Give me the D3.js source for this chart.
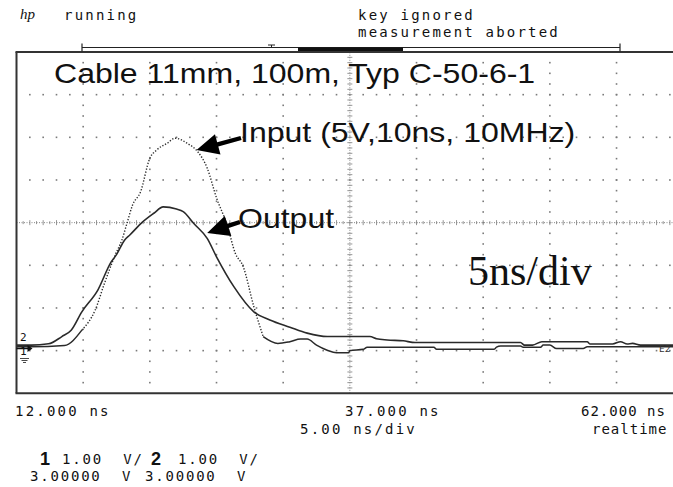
<!DOCTYPE html>
<html>
<head>
<meta charset="utf-8">
<script src="https://cdn.jsdelivr.net/npm/d3@7"></script>
<style>
  html, body { margin: 0; padding: 0; background: #fff; }
  svg { display: block; }
  .mono { font-family: "DejaVu Sans Mono", monospace; font-size: 14px; letter-spacing: 2.2px; fill: #111; white-space: pre; }
</style>
</head>
<body>
<svg id="chart" width="673" height="487"></svg>
<script>
// Screen setup: 5 ns/div horizontally, 1 V/div vertically, 3 V at centre
const timeDomain = [12, 62];
const voltDomain = [-1, 7];
const timeGrid = [17, 22, 27, 32, 37, 42, 47, 52, 57];
const voltGrid = [0, 1, 2, 3, 4, 5, 6];

// Channel 2: output of the cable (solid trace)
const outputT = [12.0, 13.1, 14.4, 15.4, 16.1, 16.9, 18.1, 19.1, 19.5, 20.1, 20.5, 21.4, 22.3, 23.0, 24.0, 24.5, 25.3, 26.3, 27.0, 28.3, 29.8, 31.0, 32.5, 33.8, 35.3, 36.9, 38.5, 39.0, 39.8, 41.0, 41.9, 48.3, 49.8, 50.1, 50.7, 51.4, 54.8, 55.0, 56.7, 57.3, 57.8, 58.2, 58.8, 62.0];
const outputV = [0.13, 0.13, 0.16, 0.33, 0.48, 0.91, 1.42, 2.08, 2.25, 2.59, 2.71, 3.00, 3.22, 3.37, 3.32, 3.26, 2.98, 2.63, 2.20, 1.50, 0.91, 0.72, 0.55, 0.41, 0.33, 0.33, 0.33, 0.28, 0.25, 0.23, 0.19, 0.19, 0.19, 0.13, 0.13, 0.21, 0.21, 0.155, 0.155, 0.21, 0.155, 0.17, 0.13, 0.13];

// Channel 1: input pulse (dotted trace)
const inputT = [12.0, 13.1, 15.6, 16.9, 17.9, 18.6, 19.4, 19.9, 20.3, 20.7, 21.3, 22.0, 22.5, 23.3, 23.9, 24.8, 25.6, 26.3, 27.0, 27.8, 28.4, 29.0, 29.8, 30.5, 31.6, 32.5, 33.3, 33.8, 34.5, 35.3, 36.0, 36.9, 37.0, 38.0, 38.3, 43.3, 43.5, 47.8, 48.0, 48.3, 49.8, 50.0, 51.3, 51.5, 52.0, 52.5, 54.5, 54.8, 62.0];
const inputV = [0.09, 0.09, 0.12, 0.48, 0.95, 1.58, 2.24, 2.59, 3.00, 3.41, 3.72, 4.51, 4.70, 4.86, 4.98, 4.86, 4.66, 4.28, 3.58, 2.94, 2.29, 1.97, 1.03, 0.33, 0.17, 0.21, 0.27, 0.27, 0.13, 0.01, -0.05, -0.05, 0.0, 0.03, 0.08, 0.08, 0.03, 0.03, 0.08, 0.11, 0.11, 0.08, 0.08, 0.13, 0.13, 0.05, 0.05, 0.09, 0.09];

// Text on the screen
const titleText = "Cable 11mm, 100m, Typ C-50-6-1";
const inputLabel = "Input (5V,10ns, 10MHz)";
const outputLabel = "Output";
const scaleNote = "5ns/div";
const statusLeft = "running";
const statusRight = ["key ignored", "measurement aborted"];
const timeLabels = ["12.000 ns", "37.000 ns", "62.000 ns"];
const timeBaseLabels = ["5.00 ns/div", "realtime"];
const channelNames = ["1", "2"];
const channelScale = ["1.00  V/", "1.00  V/"];
const channelOffset = ["3.00000  V", "3.00000  V"];

const svg = d3.select("#chart");
const x = d3.scaleLinear().domain(timeDomain).range([16.5, 683.2]);
const y = d3.scaleLinear().domain(voltDomain).range([393.3, 52]);

// Dotted graticule
const grid = svg.append("g").attr("fill", "#7a7a7a");
const dotsH = [];
voltGrid.filter(v => v !== 3).forEach(v => {
  for (let t = timeDomain[0] + 1; t < timeDomain[1]; t += 1) dotsH.push([t, v]);
});
const dotsV = [];
timeGrid.filter(t => t !== 37).forEach(t => {
  for (let v = voltDomain[0] + 0.25; v < voltDomain[1]; v += 0.25) dotsV.push([t, v]);
});
grid.selectAll(".dh").data(dotsH.concat(dotsV)).join("rect")
  .attr("x", d => x(d[0]) - 0.8).attr("y", d => y(d[1]) - 0.8)
  .attr("width", 1.6).attr("height", 1.6);

// Centre axes with minor ticks
const axisG = svg.append("g").attr("stroke", "#8a8a8a").attr("fill", "none");
axisG.append("line").attr("x1", x(12)).attr("x2", x(62)).attr("y1", y(3)).attr("y2", y(3))
  .attr("stroke-dasharray", "1,1.5").attr("stroke-width", 1);
axisG.append("line").attr("x1", x(37)).attr("x2", x(37)).attr("y1", y(-1)).attr("y2", y(7))
  .attr("stroke-dasharray", "1,1.5").attr("stroke-width", 1);
const hTicks = d3.range(12.5, 62, 0.5);
axisG.selectAll(".ht").data(hTicks).join("line")
  .attr("x1", d => x(d)).attr("x2", d => x(d))
  .attr("y1", d => y(3) - (Number.isInteger(d) ? 2.5 : 1.5))
  .attr("y2", d => y(3) + (Number.isInteger(d) ? 2.5 : 1.5))
  .attr("stroke-width", 0.9);
const vTicks = d3.range(-0.875, 7, 0.125);
axisG.selectAll(".vt").data(vTicks).join("line")
  .attr("x1", d => x(37) - 2.5).attr("x2", d => x(37) + 2.5)
  .attr("y1", d => y(d)).attr("y2", d => y(d))
  .attr("stroke-width", 0.9);

// Traces
const line = d3.line().x(d => x(d[0])).y(d => y(d[1])).curve(d3.curveMonotoneX);
const outputPts = outputT.map((t, i) => [t, outputV[i]]);
const inputPts = inputT.map((t, i) => [t, inputV[i]]);

svg.append("path").attr("d", line(outputPts))
  .attr("fill", "none").attr("stroke", "#2a2a2a").attr("stroke-width", 1.6);

// the input trace appears as separate sample dots on its steep edges
svg.append("path").attr("d", line(inputPts.filter(d => d[0] <= 17.2)))
  .attr("fill", "none").attr("stroke", "#2a2a2a").attr("stroke-width", 1.5);
svg.append("path").attr("d", line(inputPts.filter(d => d[0] >= 16.9 && d[0] <= 30.5)))
  .attr("fill", "none").attr("stroke", "#2a2a2a").attr("stroke-width", 1.4)
  .attr("stroke-dasharray", "1.3,1.7");
svg.append("path").attr("d", line(inputPts.filter(d => d[0] >= 30.5)))
  .attr("fill", "none").attr("stroke", "#2a2a2a").attr("stroke-width", 1.5);

// Frame (right edge lies beyond the visible area)
const frame = svg.append("g").attr("stroke", "#333").attr("stroke-width", 2).attr("fill", "none");
frame.append("line").attr("x1", x(12)).attr("x2", x(12)).attr("y1", y(7)).attr("y2", y(-1));
frame.append("line").attr("x1", x(12) - 1).attr("x2", 673).attr("y1", y(7)).attr("y2", y(7));
frame.append("line").attr("x1", x(12) - 1).attr("x2", 673).attr("y1", y(-1)).attr("y2", y(-1));

// Memory bar above the screen
const bar = svg.append("g").attr("stroke", "#222").attr("fill", "none");
bar.append("line").attr("x1", 82).attr("x2", 620).attr("y1", 47.5).attr("y2", 47.5).attr("stroke-width", 1.2);
bar.append("line").attr("x1", 82).attr("x2", 82).attr("y1", 43.5).attr("y2", 51.5).attr("stroke-width", 1.2);
bar.append("line").attr("x1", 620).attr("x2", 620).attr("y1", 43.5).attr("y2", 51.5).attr("stroke-width", 1.2);
bar.append("line").attr("x1", 268).attr("x2", 275).attr("y1", 45).attr("y2", 45).attr("stroke-width", 1);
bar.append("line").attr("x1", 271.5).attr("x2", 271.5).attr("y1", 45).attr("y2", 47.5).attr("stroke-width", 1);
svg.append("rect").attr("x", 298).attr("y", 47.5).attr("width", 105).attr("height", 3.5).attr("fill", "#111");

// Status line
svg.append("text").attr("x", 20).attr("y", 19)
  .attr("font-family", "Liberation Serif, serif").attr("font-style", "italic")
  .attr("font-size", 15).attr("fill", "#111").text("hp");
svg.append("text").attr("class", "mono").attr("x", 64).attr("y", 20).text(statusLeft);
svg.selectAll(".st").data(statusRight).join("text").attr("class", "mono")
  .attr("x", 358).attr("y", (d, i) => 20 + i * 17).text(d => d);

// Annotations: a wide sans face, stretched horizontally
const sans = "Liberation Sans, Arial, sans-serif";
function wideLabel(px, py, txt) {
  svg.append("text").attr("transform", `translate(${px},${py}) scale(1.165,1)`)
    .attr("font-family", sans).attr("font-size", 27.5).attr("fill", "#111").text(txt);
}
wideLabel(54, 83, titleText);
wideLabel(240, 142, inputLabel);
wideLabel(238, 228, outputLabel);
svg.append("text").attr("x", 468).attr("y", 285).attr("font-family", "Liberation Serif, Times New Roman, serif")
  .attr("font-size", 42).attr("fill", "#111").text(scaleNote);

function arrow(tip, tail) {
  const dx = tail[0] - tip[0], dy = tail[1] - tip[1];
  const len = Math.hypot(dx, dy), ux = dx / len, uy = dy / len;
  const px = -uy, py = ux;
  const headL = 22, headW = 10.5, shaftW = 2.2;
  const bx = tip[0] + ux * headL, by = tip[1] + uy * headL;
  const pts = [
    [tip[0], tip[1]],
    [bx + px * headW, by + py * headW],
    [bx + px * shaftW, by + py * shaftW],
    [tail[0] + px * shaftW, tail[1] + py * shaftW],
    [tail[0] - px * shaftW, tail[1] - py * shaftW],
    [bx - px * shaftW, by - py * shaftW],
    [bx - px * headW, by - py * headW]
  ];
  svg.append("polygon").attr("points", pts.map(p => p.join(",")).join(" ")).attr("fill", "#000");
}
arrow([x(25.5), y(4.7)], [241, 138]);
arrow([x(26.3), y(2.76)], [240, 222]);

// Channel markers at the left edge and trigger mark at the right
const mk = svg.append("g").attr("font-family", "DejaVu Sans Mono, monospace").attr("fill", "#111");
mk.append("text").attr("x", 20).attr("y", 341).attr("font-size", 11).text("2");
mk.append("text").attr("x", 20).attr("y", 355).attr("font-size", 11).text("1");
svg.append("path").attr("d", `M${x(12)},${y(0.05)} L${x(12) + 14},${y(0.05)}`)
  .attr("stroke", "#111").attr("stroke-width", 1.5);
svg.append("path").attr("d", `M${x(12) + 11},${y(0.05) - 3.5} L${x(12) + 16},${y(0.05)} L${x(12) + 11},${y(0.05) + 3.5} Z`)
  .attr("fill", "#111");
svg.append("path").attr("d", "M20,358.5 H29 M21.5,360.5 H27.5 M23,362.5 H26")
  .attr("stroke", "#333").attr("stroke-width", 0.9);
mk.append("text").attr("x", 659).attr("y", 352).attr("font-size", 9.5).attr("fill", "#333").text("E2");

// Horizontal readout below the screen
svg.selectAll(".tl").data(timeLabels).join("text").attr("class", "mono")
  .attr("x", (d, i) => [15, 345, 581][i]).attr("y", 416)
  .style("letter-spacing", (d, i) => i === 2 ? "1.0px" : null).text(d => d);
svg.selectAll(".tb").data(timeBaseLabels).join("text").attr("class", "mono")
  .attr("x", (d, i) => [300, 592][i]).attr("y", 434)
  .style("letter-spacing", (d, i) => i === 1 ? "1.0px" : null).text(d => d);

// Channel readouts
const nameX = [40, 151], scaleX = [62, 178], offsetX = [30, 145];
channelNames.forEach((name, i) => {
  svg.append("text").attr("x", nameX[i]).attr("y", 465).attr("font-family", sans)
    .attr("font-weight", "bold").attr("font-size", 18).attr("fill", "#111").text(name);
  svg.append("text").attr("class", "mono").attr("x", scaleX[i]).attr("y", 464)
    .style("letter-spacing", "1.8px").text(channelScale[i]);
  svg.append("text").attr("class", "mono").attr("x", offsetX[i]).attr("y", 481)
    .style("letter-spacing", "1.8px").text(channelOffset[i]);
});
</script>
</body>
</html>
